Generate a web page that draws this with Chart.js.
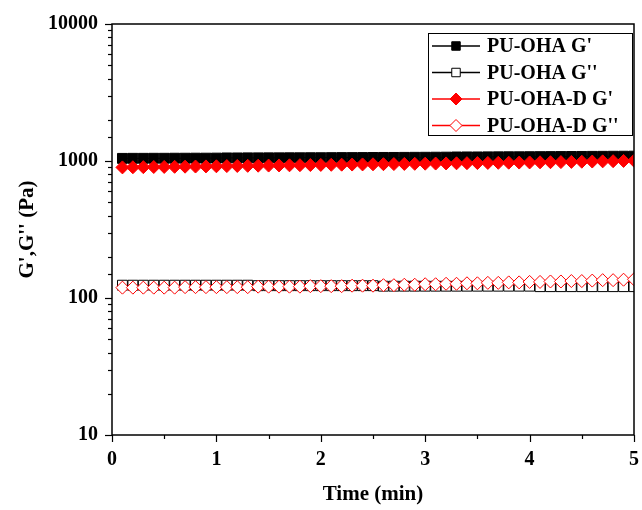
<!DOCTYPE html>
<html>
<head>
<meta charset="utf-8">
<script src="https://cdn.jsdelivr.net/npm/chart.js@4/dist/chart.umd.min.js"></script>
<style>
  html, body { margin: 0; padding: 0; background: #fff; }
  #wrap { width: 642px; height: 510px; }
</style>
</head>
<body>
<div id="wrap"><canvas id="canvas" width="642" height="510"></canvas></div>
<script>
// time axis (min)
const timeMin = [0.1, 0.2, 0.3, 0.4, 0.5, 0.6, 0.7, 0.8, 0.9, 1.0,
                 1.1, 1.2, 1.3, 1.4, 1.5, 1.6, 1.7, 1.8, 1.9, 2.0,
                 2.1, 2.2, 2.3, 2.4, 2.5, 2.6, 2.7, 2.8, 2.9, 3.0,
                 3.1, 3.2, 3.3, 3.4, 3.5, 3.6, 3.7, 3.8, 3.9, 4.0,
                 4.1, 4.2, 4.3, 4.4, 4.5, 4.6, 4.7, 4.8, 4.9, 5.0];

// PU-OHA G' (Pa)
const puOhaG1 = [1045, 1046, 1046, 1047, 1047, 1048, 1048, 1049, 1049, 1050,
                 1053, 1053, 1054, 1054, 1055, 1055, 1056, 1056, 1057, 1057,
                 1058, 1059, 1059, 1060, 1061, 1062, 1062, 1063, 1064, 1065,
                 1066, 1067, 1070, 1071, 1071, 1072, 1073, 1074, 1074, 1075,
                 1076, 1077, 1078, 1079, 1080, 1081, 1082, 1083, 1084, 1085];

// PU-OHA G'' (Pa)
const puOhaG2 = [124, 124, 124, 124, 124, 124, 124, 124, 124, 124,
                 124, 124, 124, 123, 123, 123, 123, 123, 123, 123,
                 123, 123, 123, 123, 123, 122, 122, 122, 122, 122,
                 122, 122, 122, 122, 122, 122, 122, 122, 122, 122,
                 121, 121, 121, 121, 121, 121, 121, 121, 121, 121];

// PU-OHA-D G' (Pa)
const puOhaDG1 = [898, 900, 902, 904, 905, 907, 909, 911, 913, 915,
                  918, 920, 922, 924, 926, 928, 930, 932, 934, 936,
                  938, 940, 942, 944, 946, 948, 950, 952, 954, 956,
                  958, 960, 962, 964, 966, 968, 970, 972, 974, 976,
                  978, 980, 982, 985, 988, 991, 994, 997, 1001, 1005];

// PU-OHA-D G'' (Pa)
const puOhaDG2 = [119, 119, 119, 119, 119, 119, 120, 120, 120, 120,
                  120, 120, 120, 121, 121, 121, 121, 121, 122, 122,
                  122, 122, 123, 123, 123, 124, 124, 125, 125, 126,
                  126, 127, 127, 128, 128, 129, 129, 130, 130, 131,
                  131, 132, 132, 133, 133, 134, 135, 135, 136, 137];

const yTickLabels = [10, 100, 1000, 10000];
const xTickLabels = [0, 1, 2, 3, 4, 5];

const serif = "'Times New Roman', 'Liberation Serif', serif";

function pts(ys) {
    return timeMin.map((t, i) => ({ x: t, y: ys[i] }));
}

// frame around plot + outward tick marks + boxed legend
const framePlugin = {
    id: 'frame',
    afterDraw(chart) {
        const ctx = chart.ctx;
        const a = chart.chartArea;
        const xs = chart.scales.x;
        const ys = chart.scales.y;
        ctx.save();
        ctx.strokeStyle = '#000';
        ctx.lineWidth = 1.5;
        ctx.strokeRect(a.left, a.top, a.right - a.left, a.bottom - a.top);

        // y ticks
        ctx.lineWidth = 1.2;
        ys.ticks.forEach(t => {
            const major = yTickLabels.includes(t.value);
            const py = Math.round(ys.getPixelForValue(t.value)) + 0.5;
            ctx.beginPath();
            ctx.moveTo(a.left, py);
            ctx.lineTo(a.left - (major ? 7 : 4), py);
            ctx.stroke();
        });
        // x ticks
        xs.ticks.forEach(t => {
            const major = xTickLabels.includes(t.value);
            const px = Math.round(xs.getPixelForValue(t.value)) + 0.5;
            ctx.beginPath();
            ctx.moveTo(px, a.bottom);
            ctx.lineTo(px, a.bottom + (major ? 7 : 4));
            ctx.stroke();
        });

        // legend
        const lx = 428, ly = 33, lw = 204, lh = 102;
        ctx.fillStyle = '#fff';
        ctx.fillRect(lx, ly, lw, lh);
        ctx.lineWidth = 1;
        ctx.strokeStyle = '#000';
        ctx.strokeRect(lx + 0.5, ly + 0.5, lw, lh);
        ctx.font = 'bold 20px ' + serif;
        ctx.textBaseline = 'middle';
        ctx.textAlign = 'left';
        chart.data.datasets.forEach((ds, i) => {
            const cy = ly + 13 + i * 26.5;
            ctx.strokeStyle = ds.borderColor;
            ctx.lineWidth = 1.5;
            ctx.beginPath();
            ctx.moveTo(lx + 4, cy);
            ctx.lineTo(lx + 52, cy);
            ctx.stroke();
            ctx.fillStyle = ds.pointBackgroundColor;
            ctx.strokeStyle = ds.pointBorderColor;
            ctx.lineWidth = 1;
            Chart.helpers.drawPoint(ctx, {
                pointStyle: ds.pointStyle,
                radius: 6,
                rotation: 0,
                borderWidth: 1
            }, lx + 28, cy);
            ctx.fillStyle = '#000';
            ctx.fillText(ds.label, lx + 59, cy + 1);
        });
        ctx.restore();
    }
};

new Chart(document.querySelector('#canvas'), {
    type: 'line',
    data: {
        datasets: [
            {
                label: "PU-OHA G'",
                data: pts(puOhaG1),
                borderColor: '#000',
                borderWidth: 1,
                pointStyle: 'rect',
                pointRadius: 7,
                pointBackgroundColor: '#000',
                pointBorderColor: '#000',
                pointBorderWidth: 1,
                order: 2
            },
            {
                label: "PU-OHA G''",
                data: pts(puOhaG2),
                borderColor: '#000',
                borderWidth: 1,
                pointStyle: 'rect',
                pointRadius: 7,
                pointBackgroundColor: '#fff',
                pointBorderColor: '#000',
                pointBorderWidth: 1,
                order: 2
            },
            {
                label: "PU-OHA-D G'",
                data: pts(puOhaDG1),
                borderColor: '#ff0000',
                borderWidth: 1,
                pointStyle: 'rectRot',
                pointRadius: 6.5,
                pointBackgroundColor: '#ff0000',
                pointBorderColor: '#ff0000',
                pointBorderWidth: 1,
                order: 1
            },
            {
                label: "PU-OHA-D G''",
                data: pts(puOhaDG2),
                borderColor: '#ff0000',
                borderWidth: 1,
                pointStyle: 'rectRot',
                pointRadius: 6.5,
                pointBackgroundColor: '#fff',
                pointBorderColor: '#ff0000',
                pointBorderWidth: 1,
                order: 1
            }
        ]
    },
    options: {
        responsive: false,
        animation: false,
        events: [],
        layout: { padding: { left: 0, top: 24, right: 8, bottom: 0 } },
        plugins: {
            legend: { display: false },
            tooltip: { enabled: false }
        },
        scales: {
            x: {
                type: 'linear',
                min: 0,
                max: 5,
                grid: { display: false, drawTicks: false },
                border: { display: false },
                ticks: {
                    stepSize: 0.5,
                    autoSkip: false,
                    maxRotation: 0,
                    padding: 13,
                    color: '#000',
                    font: { family: serif, size: 20, weight: 'bold' },
                    callback: v => xTickLabels.includes(v) ? String(v) : ''
                },
                title: {
                    display: true,
                    text: 'Time (min)',
                    color: '#000',
                    padding: { top: 3, bottom: 3 },
                    font: { family: serif, size: 21, weight: 'bold' }
                },
                afterFit(scale) {
                    scale.height = 75;
                    scale.paddingLeft = 0;
                    scale.paddingRight = 0;
                }
            },
            y: {
                type: 'logarithmic',
                min: 10,
                max: 10000,
                grid: { display: false, drawTicks: false },
                border: { display: false },
                ticks: {
                    autoSkip: false,
                    padding: 14,
                    color: '#000',
                    font: { family: serif, size: 20, weight: 'bold' },
                    callback: v => yTickLabels.includes(v) ? String(v) : ''
                },
                title: {
                    display: true,
                    text: "G',G'' (Pa)",
                    color: '#000',
                    padding: { top: 15, bottom: 0 },
                    font: { family: serif, size: 21, weight: 'bold' }
                },
                afterFit(scale) {
                    scale.width = 112;
                    scale.paddingTop = 0;
                    scale.paddingBottom = 0;
                }
            }
        }
    },
    plugins: [framePlugin]
});
</script>
</body>
</html>
